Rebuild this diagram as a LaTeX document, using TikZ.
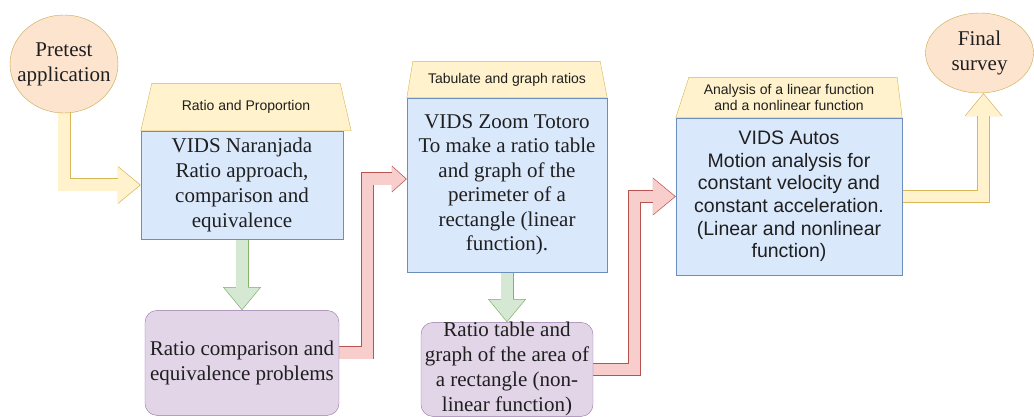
\documentclass[tikz,border=0pt]{standalone}
\usepackage{fontspec}
\setmainfont{Liberation Serif}
\setsansfont{Liberation Sans}
\usetikzlibrary{arrows.meta,positioning,shapes.geometric,backgrounds}
\definecolor{headfill}{HTML}{FFF2CC}
\definecolor{headline}{HTML}{D6B656}
\definecolor{bodyfill}{HTML}{DAE8FC}
\definecolor{bodyline}{HTML}{6C8EBF}
\definecolor{probfill}{HTML}{E1D5E7}
\definecolor{probline}{HTML}{9673A6}
\definecolor{endfill}{HTML}{FCE4CF}
\definecolor{endline}{HTML}{C9A84C}
\definecolor{greenfill}{HTML}{D5E8D4}
\definecolor{greenline}{HTML}{82B366}
\definecolor{redfill}{HTML}{F8CECC}
\definecolor{redline}{HTML}{B85450}
\definecolor{ink}{HTML}{1F1F1F}
\tikzset{
  bodybox/.style={draw=bodyline, fill=bodyfill, inner sep=0pt, align=center,
    text=ink, font=\fontsize{21}{25}\selectfont},
  headbox/.style={inner sep=0pt, align=center, text=ink,
    font=\sffamily\fontsize{14}{16}\selectfont},
  headshape/.style={draw=headline, fill=headfill},
  probbox/.style={draw=probline, fill=probfill, rounded corners=12pt, inner sep=0pt,
    align=center, text=ink, font=\fontsize{21}{25}\selectfont},
  endnode/.style={ellipse, draw=endline, fill=endfill, inner xsep=-25pt, inner ysep=-12pt,
    align=center, text=ink, font=\fontsize{21}{25}\selectfont},
  flowout/.style={line width=13pt, line join=miter, shorten <=-3pt,
    -{Triangle[width=38pt, length=23pt, line width=0pt]}},
  flowin/.style={line width=11.4pt, line join=miter, shorten <=-3pt, shorten >=1.1pt,
    -{Triangle[width=35.6pt, length=21.5pt, line width=0pt]}},
  smallout/.style={line width=13pt, line join=miter, shorten <=-3pt,
    -{Triangle[width=27pt, length=15pt, line width=0pt]}},
  smallin/.style={line width=11.4pt, line join=miter, shorten <=-3pt, shorten >=1.1pt,
    -{Triangle[width=24.6pt, length=13.6pt, line width=0pt]}}
}
\begin{document}
\begin{tikzpicture}[x=1pt, y=-1pt]
  \useasboundingbox (0,0) rectangle (1034,417);
  % start and end
  \node[endnode, minimum width=108pt, minimum height=98pt] (pre) at (64,64) {Pretest\\application};
  \node[endnode, minimum width=108pt, minimum height=80pt] (final) at (979.5,53) {Final\\survey};
  % first stage
  \node[bodybox, minimum width=202pt, minimum height=108pt] (body1) at (242,185)
    {VIDS Naranjada\\Ratio approach,\\comparison and\\equivalence};
  \node[headbox, minimum width=210pt, minimum height=47pt, above=0pt of body1,
    xshift=4pt] (head1) {Ratio and Proportion};
  \node[probbox, minimum width=194pt, minimum height=105pt, below=71pt of body1] (prob1)
    {Ratio comparison and\\equivalence problems};
  % second stage
  \node[bodybox, minimum width=200pt, minimum height=174pt,
    font=\fontsize{21}{24.5}\selectfont] (body2) at (507,185)
    {VIDS Zoom Totoro\\To make a ratio table\\and graph of the\\perimeter of a\\rectangle (linear\\function).};
  \node[headbox, minimum width=200pt, minimum height=36pt, above=0pt of body2] (head2)
    {Tabulate and graph ratios};
  \node[probbox, minimum width=172pt, minimum height=94pt, below=50pt of body2] (prob2)
    {Ratio table and\\graph of the area of\\a rectangle (non-\\linear function)};
  % third stage
  \node[bodybox, minimum width=226pt, minimum height=157pt,
    font=\sffamily\fontsize{19.5}{22.6}\selectfont] (body3) at (789,196.5)
    {VIDS Autos\\Motion analysis for\\constant velocity and\\constant acceleration.\\(Linear and nonlinear\\function)};
  \node[headbox, minimum width=226pt, minimum height=40pt, above=0pt of body3] (head3)
    {Analysis of a linear function\\and a nonlinear function};
  \begin{scope}[on background layer]
    % header roofs
    \draw[headshape] (head1.south west) -- ([xshift=11pt]head1.north west)
      -- ([xshift=-11pt]head1.north east) -- (head1.south east) -- cycle;
    \draw[headshape] (head2.south west) -- ([xshift=6pt]head2.north west)
      -- ([xshift=-7pt]head2.north east) -- (head2.south east) -- cycle;
    \draw[headshape] (head3.south west) -- ([xshift=13pt]head3.north west)
      -- ([xshift=-5pt]head3.north east) -- (head3.south east) -- cycle;
    % yellow
    \draw[flowout, draw=headline] (pre.south) |- (body1.west);
    \draw[flowin, draw=headfill] (pre.south) |- (body1.west);
    \draw[flowout, draw=headline] (body3.east) -| ([xshift=4pt]final.south);
    \draw[flowin, draw=headfill] (body3.east) -| ([xshift=4pt]final.south);
    % green
    \draw[flowout, draw=greenline] (body1.south) -- (prob1.north);
    \draw[flowin, draw=greenfill] (body1.south) -- (prob1.north);
    \draw[flowout, draw=greenline] (body2.south) -- (prob2.north);
    \draw[flowin, draw=greenfill] (body2.south) -- (prob2.north);
    % red
    \draw[smallout, draw=redline] ([yshift=10pt]prob1.east) -- ++(28,0) |- ([yshift=6pt]body2.west);
    \draw[smallin, draw=redfill] ([yshift=10pt]prob1.east) -- ++(28,0) |- ([yshift=6pt]body2.west);
    \draw[flowout, draw=redline] (prob2.east) -- ++(41.5,0) |- (body3.west);
    \draw[flowin, draw=redfill] (prob2.east) -- ++(41.5,0) |- (body3.west);
  \end{scope}
\end{tikzpicture}
\end{document}
